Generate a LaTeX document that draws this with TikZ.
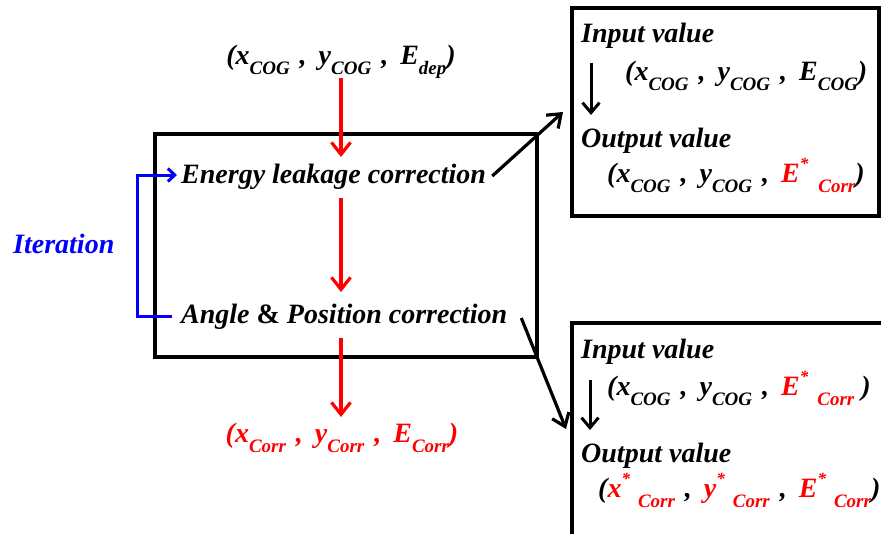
\documentclass[tikz,border=0pt]{standalone}
\usepackage{fontspec}
\setmainfont{Liberation Serif}
\usetikzlibrary{arrows.meta}
\newcommand{\lsub}[1]{\raisebox{-0.36em}{\fontsize{19}{19}\selectfont #1}}
\newcommand{\lsup}[1]{\raisebox{0.45em}{\fontsize{17}{17}\selectfont #1}}
\newcommand{\rd}[1]{\textcolor{red}{#1}}
\newcommand{\cm}{\hspace{10pt},\hspace{12pt}}
\tikzset{
  txt/.style={inner sep=0pt, font=\fontsize{28}{30}\selectfont\bfseries\itshape},
  frame/.style={draw=black, line width=3.2pt, inner sep=0pt},
  redarrow/.style={draw=red, line width=3.2pt, -{Straight Barb[length=12pt,width=19pt,line width=3.2pt]}},
  blkarrow/.style={draw=black, line width=3.2pt, -{Straight Barb[length=12pt,width=18pt,line width=3.2pt]}},
  thinarrow/.style={draw=black, line width=3pt, -{Straight Barb[length=10pt,width=17pt,line width=3pt]}},
  bluearrow/.style={draw=blue, line width=3pt, -{Straight Barb[length=7pt,width=13pt,line width=3pt]}},
}
\begin{document}
\begin{tikzpicture}[x=1pt,y=-1pt]
\useasboundingbox (0,0) rectangle (881,533);
% frames
\node[frame, minimum width=382pt, minimum height=223pt] (main) at (346,245.5) {};
\node[frame, minimum width=307pt, minimum height=208pt] (boxA) at (725.5,112) {};
\draw[line width=3.2pt] (572,545) |- (895,323);
% main texts
\node[txt, anchor=base] (in) at (341,64) {(x\lsub{COG}\cm y\lsub{COG}\cm E\lsub{dep})};
\node[txt, anchor=base west] (elc) at (181,183) {Energy leakage correction};
\node[txt, anchor=base west] (apc) at (181,323) {Angle \textup{\&} Position correction};
\node[txt, anchor=base, text=red] (out) at (342,442) {(x\lsub{Corr}\cm y\lsub{Corr}\cm E\lsub{Corr})};
\node[txt, anchor=base west, text=blue] (iter) at (13,253) {Iteration};
% box A texts
\node[txt, anchor=base west] (inA) at (581,42) {Input value};
\node[txt, anchor=base west] (fA1) at (625,80) {(x\lsub{COG}\cm y\lsub{COG}\cm E\lsub{COG})};
\node[txt, anchor=base west] (outA) at (581,147) {Output value};
\node[txt, anchor=base west] (fA2) at (607,182) {(x\lsub{COG}\cm y\lsub{COG}\cm \rd{E\lsup{*}\hspace{10pt}\lsub{Corr}})};
% box B texts
\node[txt, anchor=base west] (inB) at (581,358) {Input value};
\node[txt, anchor=base west] (fB1) at (607,395) {(x\lsub{COG}\cm y\lsub{COG}\cm \rd{E\lsup{*}\hspace{9pt}\lsub{Corr}} )};
\node[txt, anchor=base west] (outB) at (581,462) {Output value};
\node[txt, anchor=base west] (fB2) at (598,497) {(\rd{x\lsup{*}\hspace{8pt}\lsub{Corr}}\cm \rd{y\lsup{*}\hspace{8pt}\lsub{Corr}}\cm \rd{E\lsup{*}\hspace{8pt}\lsub{Corr}})};
% arrow coordinates
\coordinate (r1s) at (341,78);  \coordinate (r1e) at (341,157);
\coordinate (r2s) at (341,198); \coordinate (r2e) at (341,292);
\coordinate (r3s) at (341,338); \coordinate (r3e) at (341,417);
\coordinate (dAs) at (591,63);  \coordinate (dAe) at (591,115);
\coordinate (dBs) at (590,380); \coordinate (dBe) at (590,430);
\coordinate (kA) at (563,112);
\coordinate (kB) at (566,429);
% arrows
\draw[redarrow] (r1s) -- (r1e);
\draw[redarrow] (r2s) -- (r2e);
\draw[redarrow] (r3s) -- (r3e);
\draw[thinarrow] (dAs) -- (dAe);
\draw[thinarrow] (dBs) -- (dBe);
\draw[blkarrow] ([xshift=6pt,yshift=7pt]elc.base east) -- (kA);
\draw[blkarrow] ([xshift=14pt,yshift=5pt]apc.base east) -- (kB);
\draw[bluearrow] ([xshift=-9pt,yshift=7pt]apc.base west) -- ++(-35,0) |- ([xshift=-4pt,yshift=8pt]elc.base west);
\end{tikzpicture}
\end{document}
